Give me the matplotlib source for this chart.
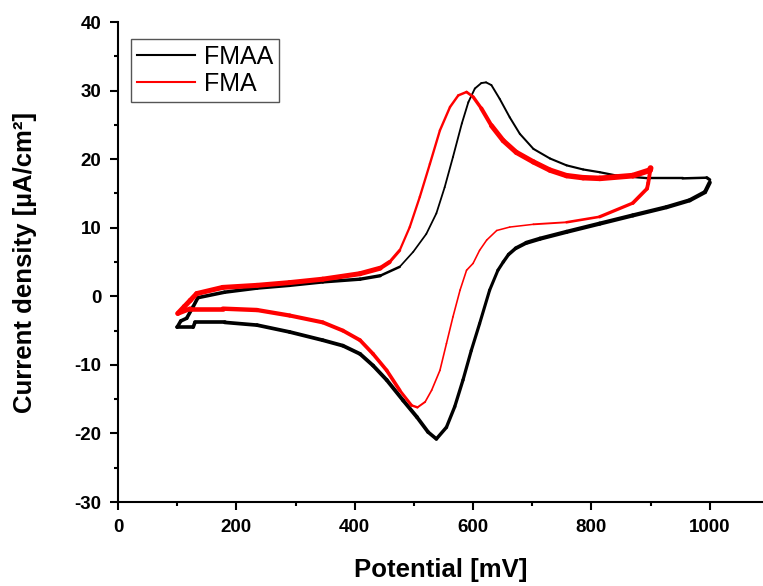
import matplotlib
matplotlib.use("Agg")
import matplotlib.pyplot as plt
import numpy as np
from matplotlib.collections import LineCollection
from matplotlib.lines import Line2D

plt.rcParams['font.family'] = ['Liberation Sans', 'DejaVu Sans']
plt.rcParams['axes.unicode_minus'] = False

# cyclic voltammograms
# FMAA: forward (anodic) sweep 100 -> 1000 mV, then reverse sweep back to 100 mV
fmaa_fwd_x = [100, 106, 116, 127, 135, 180, 235, 290, 346, 409, 443, 476, 499, 521, 538,
              552, 566, 581, 592, 603, 614, 622, 631, 645, 662, 679, 702, 730, 758, 786,
              814, 843, 899, 954, 995, 1000]
fmaa_fwd_y = [-4.5, -3.6, -3.2, -1.5, -0.2, 0.6, 1.2, 1.6, 2.1, 2.5, 3.0, 4.3, 6.5, 9.1, 12.1,
              15.9, 20.3, 25.2, 28.3, 30.3, 31.1, 31.2, 30.8, 28.8, 26.1, 23.7, 21.5, 20.1, 19.1, 18.5,
              18.1, 17.6, 17.2, 17.2, 17.3, 17.0]
fmaa_rev_x = [1000, 992, 966, 927, 870, 814, 758, 713, 690, 672, 660, 651, 642, 628, 611, 597,
              583, 569, 555, 538, 524, 505, 482, 454, 431, 409, 380, 346, 290, 235, 180,
              130, 127, 100]
fmaa_rev_y = [16.6, 15.2, 14.0, 13.0, 11.8, 10.6, 9.4, 8.4, 7.8, 7.0, 6.1, 5.0, 3.8, 0.9, -4.0, -7.9,
              -12.2, -16.1, -19.1, -20.8, -19.8, -17.6, -15.2, -12.2, -10.1, -8.4, -7.2, -6.4, -5.2, -4.2, -3.8,
              -3.8, -4.5, -4.5]

# FMA: forward sweep 100 -> 900 mV, then reverse
fma_fwd_x = [101, 112, 122, 133, 177, 235, 290, 346, 409, 443, 459, 476, 493, 510, 527,
             544, 561, 575, 589, 600, 614, 631, 651, 673, 702, 730, 758, 786, 814, 870,
             899, 900]
fma_fwd_y = [-2.5, -1.5, -0.6, 0.4, 1.3, 1.6, 2.0, 2.5, 3.3, 4.1, 5.0, 6.7, 10.1, 14.5, 19.3,
             24.2, 27.6, 29.3, 29.8, 29.1, 27.4, 24.9, 22.7, 21.0, 19.6, 18.4, 17.6, 17.3, 17.2, 17.6,
             18.4, 18.7]
fma_rev_x = [900, 896, 894, 870, 814, 758, 702, 662, 640, 623, 611, 600, 589, 578, 566,
             555, 544, 530, 519, 506, 496, 476, 454, 431, 409, 380, 346, 290, 235, 177,
             122, 101]
fma_rev_y = [18.7, 16.5, 15.7, 13.6, 11.6, 10.8, 10.5, 10.1, 9.6, 8.2, 6.7, 4.8, 3.8, 0.9, -3.0,
             -6.9, -10.8, -13.7, -15.4, -16.2, -15.9, -13.7, -10.8, -8.4, -6.4, -5.0, -3.8, -2.8, -2.0, -1.8,
             -1.8, -2.5]

# apparent trace width (noise band) along each sweep: (potential, linewidth) knots
fmaa_fwd_w = ([100, 440, 480, 990, 1000], [2.6, 2.4, 1.2, 1.8, 2.4])
fmaa_rev_w = ([1000, 700, 640, 560, 500, 100], [3.0, 3.0, 2.2, 2.4, 2.8, 2.6])
fma_fwd_w = ([100, 440, 480, 590, 640, 900], [3.6, 3.6, 1.6, 1.8, 3.6, 4.2])
fma_rev_w = ([900, 800, 700, 520, 470, 100], [2.8, 2.0, 1.1, 1.2, 2.6, 3.4])


def draw(ax, x, y, knots, color):
    x = np.asarray(x, float)
    y = np.asarray(y, float)
    pts = np.column_stack([x, y]).reshape(-1, 1, 2)
    segs = np.concatenate([pts[:-1], pts[1:]], axis=1)
    mid = (x[:-1] + x[1:]) / 2
    kx, kw = knots
    order = np.argsort(kx)
    lw = np.interp(mid, np.asarray(kx)[order], np.asarray(kw)[order])
    lc = LineCollection(segs, colors=color, linewidths=lw, capstyle='round', joinstyle='round')
    ax.add_collection(lc)


fig = plt.figure(figsize=(7.63, 5.86), dpi=100)
ax = fig.add_axes([0.1547, 0.1433, 0.8453, 0.8191])

draw(ax, fmaa_fwd_x, fmaa_fwd_y, fmaa_fwd_w, 'black')
draw(ax, fmaa_rev_x, fmaa_rev_y, fmaa_rev_w, 'black')
draw(ax, fma_fwd_x, fma_fwd_y, fma_fwd_w, 'red')
draw(ax, fma_rev_x, fma_rev_y, fma_rev_w, 'red')

ax.set_xlim(0, 1090)
ax.set_ylim(-30, 40)
ax.set_xticks(np.arange(0, 1001, 200))
ax.set_xticks(np.arange(100, 1001, 200), minor=True)
ax.set_yticks(np.arange(-30, 41, 10))
ax.set_yticks(np.arange(-25, 40, 10), minor=True)

for s in ['top', 'right']:
    ax.spines[s].set_visible(False)
for s in ['left', 'bottom']:
    ax.spines[s].set_linewidth(1.5)

ax.tick_params(which='major', direction='out', length=6, width=1.5, labelsize=13.5)
ax.tick_params(which='minor', direction='out', length=3, width=1.5)
ax.tick_params(axis='y', which='major', pad=6)
ax.tick_params(axis='x', which='major', pad=6)
for lbl in ax.get_xticklabels() + ax.get_yticklabels():
    lbl.set_fontweight('bold')

ax.set_xlabel('Potential [mV]', fontsize=18.5, fontweight='bold', labelpad=16)
ax.set_ylabel('Current density [µA/cm²]', fontsize=18.5, fontweight='bold', labelpad=27)

handles = [Line2D([], [], color='black', lw=1.5), Line2D([], [], color='red', lw=1.5)]
leg = ax.legend(handles, ['FMAA', 'FMA'], loc='upper left', bbox_to_anchor=(0.02, 0.965),
                borderaxespad=0, fontsize=18, fancybox=False, framealpha=1,
                edgecolor='#555555', handlelength=2.3, handletextpad=0.36,
                borderpad=0.25, labelspacing=0.1)
leg.get_frame().set_linewidth(1.0)

fig.savefig('out.png', dpi=100)
